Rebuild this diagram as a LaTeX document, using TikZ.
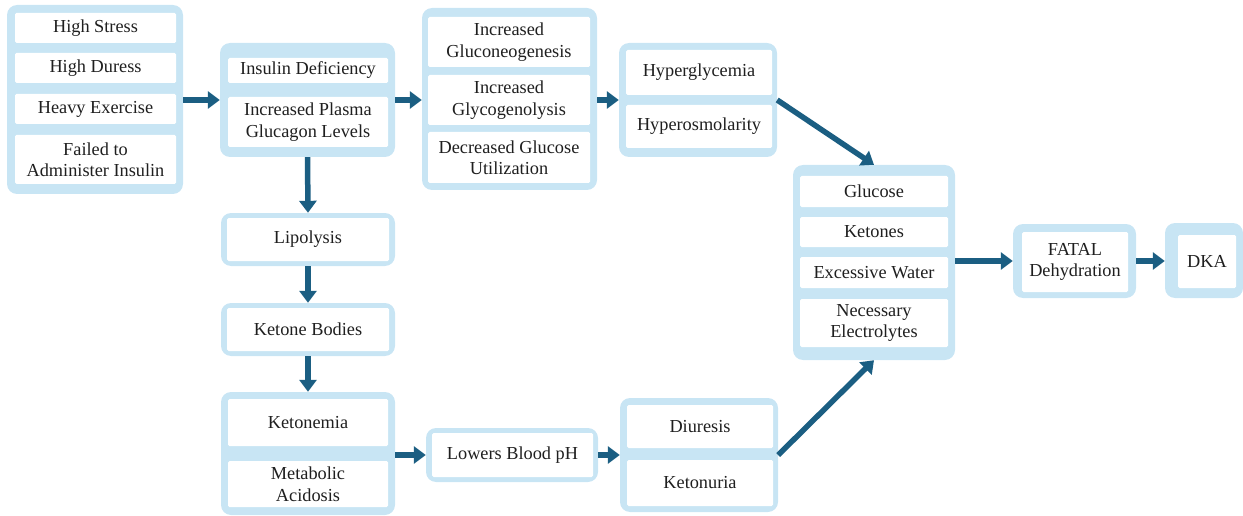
\documentclass[tikz,border=0pt]{standalone}
\usepackage{fontspec}
\newfontfamily\boxfont{LiberationSerif}[Extension=.ttf, UprightFont=*-Regular, BoldFont=*-Bold]
\usetikzlibrary{arrows.meta}
\definecolor{frameblue}{RGB}{200,229,244}
\definecolor{arrowblue}{RGB}{27,94,130}
\begin{document}
\begin{tikzpicture}[x=1pt,y=-1pt,
  grp/.style={fill=frameblue, rounded corners=10pt, inner sep=0pt},
  cell/.style={fill=white, rounded corners=1.5pt, inner sep=0pt, align=center,
    font=\boxfont\fontsize{18.3}{21.5}\selectfont, text=black!88},
  flow/.style={draw=arrowblue, line width=5.5pt, -{Triangle[length=12pt,width=17pt]}}]
\useasboundingbox (0,0) rectangle (1243,516);
\clip (0,0) rectangle (1243,516);

% triggers
\node[grp, minimum width=176pt, minimum height=189pt] (gA) at (95,99.5) {};
\node[cell, minimum width=161pt, minimum height=30pt] (a1) at (95.5,28) {High Stress};
\node[cell, minimum width=161pt, minimum height=30pt] (a2) at (95.5,68) {High Duress};
\node[cell, minimum width=161pt, minimum height=30pt] (a3) at (95.5,109) {Heavy Exercise};
\node[cell, minimum width=161pt, minimum height=49pt] (a4) at (95.5,159.5) {Failed to\\Administer Insulin};

% hormonal imbalance
\node[grp, minimum width=175pt, minimum height=114pt] (gB) at (307.5,100) {};
\node[cell, minimum width=160pt, minimum height=25pt] (b1) at (308,70.5) {Insulin Deficiency};
\node[cell, minimum width=160pt, minimum height=50pt] (b2) at (308,122) {Increased Plasma\\Glucagon Levels};

% glucose metabolism
\node[grp, minimum width=175pt, minimum height=182pt] (gC) at (509.5,99) {};
\node[cell, minimum width=162pt, minimum height=50pt] (c1) at (509,42) {Increased\\Gluconeogenesis};
\node[cell, minimum width=162pt, minimum height=50pt] (c2) at (509,100) {Increased\\Glycogenolysis};
\node[cell, minimum width=162pt, minimum height=51pt] (c3) at (509,157.5) {Decreased Glucose\\Utilization};

% blood state
\node[grp, minimum width=158pt, minimum height=114pt] (gD) at (698,100) {};
\node[cell, minimum width=146pt, minimum height=45pt] (d1) at (699,72.5) {Hyperglycemia};
\node[cell, minimum width=146pt, minimum height=43pt] (d2) at (699,126.5) {Hyperosmolarity};

% losses
\node[grp, minimum width=162pt, minimum height=195pt] (gE) at (874,262.5) {};
\node[cell, minimum width=148pt, minimum height=31pt] (e1) at (874,191.5) {Glucose};
\node[cell, minimum width=148pt, minimum height=30pt] (e2) at (874,232) {Ketones};
\node[cell, minimum width=148pt, minimum height=31pt] (e3) at (874,272.5) {Excessive Water};
\node[cell, minimum width=148pt, minimum height=48pt] (e4) at (874,323) {Necessary\\Electrolytes};

% outcome
\node[grp, minimum width=123pt, minimum height=74pt] (gF) at (1074.5,261) {};
\node[cell, minimum width=106pt, minimum height=60pt] (f1) at (1075,262) {FATAL\\Dehydration};
\node[grp, minimum width=78pt, minimum height=75pt] (gG) at (1204,260.5) {};
\node[cell, minimum width=58pt, minimum height=53pt] (g1) at (1207,261.5) {DKA};

% fat metabolism
\node[grp, minimum width=174pt, minimum height=53pt] (gH) at (308,239.5) {};
\node[cell, minimum width=162pt, minimum height=43pt] (h1) at (308,239.5) {Lipolysis};
\node[grp, minimum width=174pt, minimum height=53pt] (gI) at (308,329.5) {};
\node[cell, minimum width=162pt, minimum height=43pt] (i1) at (308,329.5) {Ketone Bodies};
\node[grp, minimum width=174pt, minimum height=123pt] (gJ) at (308,453.5) {};
\node[cell, minimum width=160pt, minimum height=47pt] (j1) at (308,422.5) {Ketonemia};
\node[cell, minimum width=160pt, minimum height=46pt] (j2) at (308,484) {Metabolic\\Acidosis};

\node[grp, minimum width=172pt, minimum height=54pt] (gK) at (512,455) {};
\node[cell, minimum width=161pt, minimum height=44pt] (k1) at (512.5,455) {Lowers Blood pH};

\node[grp, minimum width=158pt, minimum height=114pt] (gL) at (699,455) {};
\node[cell, minimum width=146pt, minimum height=43pt] (l1) at (700,426.5) {Diuresis};
\node[cell, minimum width=146pt, minimum height=46pt] (l2) at (700,483) {Ketonuria};

% connectors
\draw[flow] (gA.east |- gB.west) -- (gB.west);
\draw[flow] (gB.east) -- (gB.east -| gC.west);
\draw[flow] (gC.east |- gD.west) -- (gD.west);
\draw[flow] (gD.east) -- (gE.north);
\draw[flow] (gL.east) -- (gE.south);
\draw[flow] (gE.east |- gF.west) -- (gF.west);
\draw[flow] (gF.east) -- (gF.east -| gG.west);
\draw[flow] (gB.south) -- (gH.north);
\draw[flow] (gH.south) -- (gI.north);
\draw[flow] (gI.south) -- (gJ.north);
\draw[flow] (gJ.east |- gK.west) -- (gK.west);
\draw[flow] (gK.east) -- (gK.east -| gL.west);
\end{tikzpicture}
\end{document}
